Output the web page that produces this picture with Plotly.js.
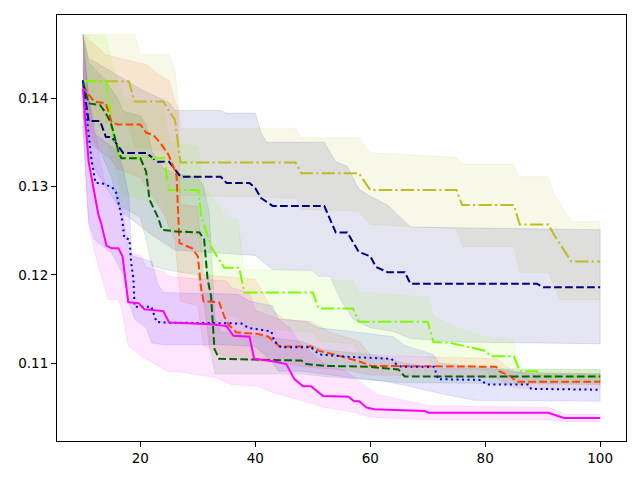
<!DOCTYPE html>
<html>
<head>
<meta charset="utf-8">
<script src="https://cdn.plot.ly/plotly-3.0.1.min.js"></script>
<style>
  html, body { margin: 0; padding: 0; background: #fff; }
  #chart { width: 640px; height: 480px; }
</style>
</head>
<body>
<div id="chart"></div>
<script>
// olive, dash-dot
const olive_x = [10, 18, 19, 24, 25, 26, 27, 47, 48, 58, 60, 75, 76, 85, 86, 91, 92, 95, 100];
const olive_mean = [0.1419, 0.1419, 0.1396, 0.1396, 0.1385, 0.1376, 0.1327, 0.1327, 0.1315, 0.1315, 0.1296, 0.1296, 0.1279, 0.1279, 0.1257, 0.1257, 0.1245, 0.1215, 0.1215];
const olive_up_x = [10, 19, 20, 25, 26, 27, 47, 48, 58, 60, 75, 76, 85, 86, 91, 92, 95, 100];
const olive_up = [0.1472, 0.1472, 0.1449, 0.1449, 0.1434, 0.1366, 0.1366, 0.1355, 0.1355, 0.1338, 0.1333, 0.1325, 0.1325, 0.1311, 0.1311, 0.1291, 0.1260, 0.1260];
const olive_lo_x = [10, 18, 19, 24, 26, 27, 47, 48, 58, 60, 75, 76, 85, 86, 91, 93, 100];
const olive_lo = [0.1375, 0.1370, 0.1345, 0.1340, 0.1320, 0.1290, 0.1287, 0.1274, 0.1272, 0.1257, 0.1252, 0.1232, 0.1232, 0.1203, 0.1203, 0.1172, 0.1172];

// navy, dashed
const navy_x = [10, 11, 13, 14, 15, 17, 21, 23, 25, 27, 34, 35, 39, 40, 41, 43, 52, 54, 56, 58, 60, 61, 63, 66, 67, 89, 90, 100];
const navy_mean = [0.1420, 0.1374, 0.1374, 0.1356, 0.1356, 0.1338, 0.1338, 0.1328, 0.1328, 0.1311, 0.1311, 0.1304, 0.1304, 0.1298, 0.1287, 0.1278, 0.1278, 0.1248, 0.1248, 0.1226, 0.1221, 0.1209, 0.1203, 0.1203, 0.1190, 0.1190, 0.1186, 0.1186];
const navy_up_x = [10, 11, 15, 20, 25, 26, 34, 35, 40, 41, 42, 52, 54, 56, 58, 60, 63, 67, 100];
const navy_up = [0.1472, 0.1445, 0.1430, 0.1410, 0.1395, 0.1386, 0.1386, 0.1383, 0.1383, 0.1361, 0.1350, 0.1350, 0.1328, 0.1323, 0.1297, 0.1289, 0.1279, 0.1254, 0.1251];
const navy_lo_x = [10, 11, 14, 17, 22, 26, 40, 43, 50, 51, 53, 55, 57, 60, 64, 67, 75, 100];
const navy_lo = [0.1385, 0.1330, 0.1300, 0.1270, 0.1245, 0.1228, 0.1222, 0.1206, 0.1205, 0.1198, 0.1198, 0.1170, 0.1150, 0.1140, 0.1136, 0.1128, 0.1124, 0.1122];

// lawngreen, dash-dot
const lg_x = [10, 14, 15, 15.3, 16.5, 24.2, 24.9, 30.1, 30.6, 32.3, 34.6, 37.2, 38.1, 50, 51, 57, 58, 70, 71, 74, 80, 81, 85, 86, 89, 90, 100];
const lg_mean = [0.1419, 0.1419, 0.1373, 0.1355, 0.1333, 0.1332, 0.1296, 0.1296, 0.1266, 0.1232, 0.1208, 0.1208, 0.1180, 0.1180, 0.1162, 0.1162, 0.1147, 0.1147, 0.1124, 0.1123, 0.1114, 0.1108, 0.1108, 0.1091, 0.1091, 0.1085, 0.1085];
const lg_up_x = [10, 14, 15, 16, 17, 24, 25, 30, 31, 33, 35, 37, 38, 50, 51, 57, 58, 70, 71, 75, 80, 85, 86, 100];
const lg_up = [0.1472, 0.1470, 0.1440, 0.1420, 0.1400, 0.1390, 0.1350, 0.1345, 0.1300, 0.1285, 0.1265, 0.1262, 0.1206, 0.1204, 0.1195, 0.1193, 0.1180, 0.1175, 0.1153, 0.1140, 0.1130, 0.1125, 0.1093, 0.1093];
const lg_lo_x = [10, 14, 15, 16, 17, 24, 25, 30, 31, 32, 34, 35, 37, 38, 50, 51, 57, 58, 70, 71, 75, 80, 81, 85, 86, 100];
const lg_lo = [0.1370, 0.1365, 0.1330, 0.1310, 0.1290, 0.1280, 0.1250, 0.1245, 0.1215, 0.1190, 0.1170, 0.1155, 0.1152, 0.1140, 0.1135, 0.1125, 0.1122, 0.1112, 0.1110, 0.1097, 0.1096, 0.1092, 0.1085, 0.1083, 0.1078, 0.1078];

// orangered, dashed
const or_x = [10, 11, 12, 14, 15, 16, 20, 21, 22.3, 23.5, 24.9, 25.7, 26.3, 26.8, 29, 30, 30.6, 31, 33.7, 34.6, 35.3, 36.7, 40.5, 42.3, 43.3, 44.2, 49.7, 51.1, 53.7, 56.7, 58.1, 60.2, 81.9, 82.4, 84.5, 85.4, 100];
const or_mean = [0.1415, 0.1404, 0.1396, 0.1394, 0.1373, 0.1370, 0.1370, 0.1361, 0.1358, 0.1349, 0.1336, 0.1324, 0.1313, 0.1236, 0.1230, 0.1221, 0.1183, 0.1170, 0.1169, 0.1153, 0.1144, 0.1135, 0.1133, 0.1130, 0.1124, 0.1119, 0.1119, 0.1114, 0.1110, 0.1105, 0.1102, 0.1097, 0.1096, 0.1091, 0.1085, 0.1079, 0.1079];
const or_up_x = [10, 14, 19, 21, 23, 25, 26, 26.5, 27, 30, 31, 40, 43, 45, 50, 53, 58, 60, 72, 82, 85, 100];
const or_up = [0.1472, 0.1449, 0.1441, 0.1438, 0.1427, 0.1420, 0.1397, 0.1390, 0.1280, 0.1277, 0.1200, 0.1195, 0.1160, 0.1150, 0.1147, 0.1135, 0.1125, 0.1110, 0.1107, 0.1105, 0.1090, 0.1088];
const or_lo_x = [10, 11, 13, 15, 16, 20, 22, 24, 26, 27, 30, 31, 34, 36, 40, 44, 50, 56, 60, 72, 82, 85, 100];
const or_lo = [0.1380, 0.1360, 0.1340, 0.1330, 0.1320, 0.1310, 0.1290, 0.1270, 0.1240, 0.1170, 0.1165, 0.1120, 0.1110, 0.1105, 0.1103, 0.1100, 0.1095, 0.1092, 0.1087, 0.1085, 0.1083, 0.1072, 0.1071];

// darkgreen, dashed
const dg_x = [10, 11, 13, 13.9, 14.8, 15.3, 16.2, 16.7, 20, 21, 21.6, 23, 23.8, 26.3, 30.3, 31.1, 31.7, 32.3, 32.9, 33.7, 48, 48.9, 52.3, 59.7, 64.9, 66, 100];
const dg_mean = [0.1418, 0.1394, 0.1392, 0.1384, 0.1373, 0.1362, 0.1339, 0.1332, 0.1332, 0.1317, 0.1285, 0.1266, 0.1251, 0.1249, 0.1248, 0.1240, 0.1195, 0.1176, 0.1116, 0.1105, 0.1103, 0.1099, 0.1097, 0.1096, 0.1093, 0.1085, 0.1085];
const dg_up_x = [10, 11, 14, 16, 17, 20, 21, 22, 24, 26, 30, 31, 32, 33, 34, 48, 52, 60, 66, 72, 100];
const dg_up = [0.1472, 0.1440, 0.1420, 0.1400, 0.1385, 0.1380, 0.1370, 0.1340, 0.1320, 0.1315, 0.1310, 0.1300, 0.1270, 0.1150, 0.1135, 0.1125, 0.1115, 0.1110, 0.1100, 0.1094, 0.1093];
const dg_lo_x = [10, 11, 13, 15, 16, 20, 21, 22, 25, 30, 31, 32, 33, 48, 52, 66, 100];
const dg_lo = [0.1380, 0.1350, 0.1340, 0.1310, 0.1280, 0.1265, 0.1240, 0.1210, 0.1205, 0.1200, 0.1175, 0.1120, 0.1088, 0.1088, 0.1085, 0.1078, 0.1076];

// blue, dotted
const bl_x = [10, 11, 11.5, 12.2, 13.2, 15.1, 15.8, 16.3, 16.9, 17.2, 18.1, 18.4, 18.8, 19, 21.9, 22.8, 23.7, 37.6, 38.8, 42.8, 43.3, 44.5, 49.7, 51.1, 56.7, 63.7, 64.5, 65.4, 71.1, 71.8, 79.3, 80.2, 87.5, 88, 100];
const bl_mean = [0.1420, 0.1362, 0.1330, 0.1304, 0.1304, 0.1299, 0.1293, 0.1279, 0.1260, 0.1242, 0.1240, 0.1214, 0.1195, 0.1164, 0.1164, 0.1147, 0.1146, 0.1145, 0.1140, 0.1136, 0.1125, 0.1118, 0.1118, 0.1110, 0.1107, 0.1105, 0.1099, 0.1096, 0.1096, 0.1082, 0.1081, 0.1076, 0.1076, 0.1071, 0.1070];
const bl_up_x = [10, 11, 12, 14, 16, 17, 18, 18.5, 22, 23, 24, 37, 39, 43, 44, 49, 51, 58, 64, 66, 71, 72, 80, 88, 100];
const bl_up = [0.1472, 0.1400, 0.1360, 0.1350, 0.1340, 0.1320, 0.1290, 0.1222, 0.1215, 0.1190, 0.1180, 0.1178, 0.1170, 0.1165, 0.1150, 0.1147, 0.1140, 0.1135, 0.1130, 0.1120, 0.1110, 0.1100, 0.1095, 0.1088, 0.1088];
const bl_lo_x = [10, 11, 12, 13, 15, 17, 18, 19, 21, 22, 24, 34, 40, 43, 44, 48, 55, 62, 66, 72, 78, 100];
const bl_lo = [0.1370, 0.1260, 0.1240, 0.1235, 0.1225, 0.1200, 0.1170, 0.1150, 0.1140, 0.1123, 0.1121, 0.1121, 0.1119, 0.1101, 0.1091, 0.1091, 0.1085, 0.1080, 0.1075, 0.1066, 0.1058, 0.1057];

// magenta, solid
const mg_x = [10, 11, 11.8, 12.7, 13.2, 14.1, 15, 16.2, 16.9, 17.9, 19.7, 20.7, 24, 25, 32.3, 35, 36.2, 39, 39.8, 43.3, 45.4, 46.8, 48.3, 49.7, 51.8, 56.2, 57.2, 58.1, 59.3, 60.7, 69.4, 70.1, 91, 92.3, 93.7, 100];
const mg_mean = [0.1411, 0.1328, 0.1300, 0.1268, 0.1258, 0.1233, 0.1230, 0.1230, 0.1221, 0.1169, 0.1168, 0.1161, 0.1159, 0.1146, 0.1144, 0.1142, 0.1131, 0.1130, 0.1105, 0.1102, 0.1099, 0.1082, 0.1074, 0.1074, 0.1063, 0.1062, 0.1057, 0.1057, 0.1050, 0.1048, 0.1046, 0.1044, 0.1044, 0.1041, 0.1038, 0.1038];
const mg_up_x = [10, 11, 12, 13, 14, 16, 17, 18, 20, 21, 24, 25, 32, 35, 36, 39, 40, 44, 46, 48, 52, 56, 58, 61, 70, 91, 94, 100];
const mg_up = [0.1472, 0.1400, 0.1370, 0.1330, 0.1300, 0.1280, 0.1270, 0.1225, 0.1222, 0.1209, 0.1204, 0.1198, 0.1195, 0.1193, 0.1185, 0.1180, 0.1160, 0.1150, 0.1140, 0.1120, 0.1100, 0.1090, 0.1080, 0.1065, 0.1052, 0.1050, 0.1042, 0.1042];
const mg_lo_x = [10, 11, 12.3, 14.4, 16.2, 16.7, 17.9, 20.2, 24.9, 27, 33, 35.8, 40.5, 43, 48, 52, 57, 60, 70, 91, 94, 100];
const mg_lo = [0.1370, 0.1255, 0.1220, 0.1172, 0.1172, 0.1164, 0.1120, 0.1108, 0.1090, 0.1090, 0.1084, 0.1076, 0.1074, 0.1067, 0.1058, 0.1050, 0.1045, 0.1039, 0.1036, 0.1036, 0.1034, 0.1034];

const x_ticks = [20, 40, 60, 80, 100];
const y_ticks = [0.11, 0.12, 0.13, 0.14];

// matplotlib-like dash patterns at linewidth 1.5
const DASHED = "7.7px,3.3px";
const DASHDOT = "13.3px,3.3px,2.1px,3.3px";
const DOTTED = "2.1px,3.4px";

const series = [
    { x: olive_x, y: olive_mean, ux: olive_up_x, uy: olive_up, lx: olive_lo_x, ly: olive_lo, rgb: [188, 189, 34], dash: DASHDOT },
    { x: navy_x, y: navy_mean, ux: navy_up_x, uy: navy_up, lx: navy_lo_x, ly: navy_lo, rgb: [0, 0, 128], dash: DASHED },
    { x: lg_x, y: lg_mean, ux: lg_up_x, uy: lg_up, lx: lg_lo_x, ly: lg_lo, rgb: [124, 252, 0], dash: DASHDOT },
    { x: or_x, y: or_mean, ux: or_up_x, uy: or_up, lx: or_lo_x, ly: or_lo, rgb: [255, 69, 0], dash: DASHED },
    { x: dg_x, y: dg_mean, ux: dg_up_x, uy: dg_up, lx: dg_lo_x, ly: dg_lo, rgb: [0, 100, 0], dash: DASHED },
    { x: bl_x, y: bl_mean, ux: bl_up_x, uy: bl_up, lx: bl_lo_x, ly: bl_lo, rgb: [0, 0, 255], dash: DOTTED },
    { x: mg_x, y: mg_mean, ux: mg_up_x, uy: mg_up, lx: mg_lo_x, ly: mg_lo, rgb: [255, 0, 255], dash: "solid" }
];

function rgba(rgb, a) { return `rgba(${rgb[0]},${rgb[1]},${rgb[2]},${a})`; }

function band_trace(s) {
    // upper edge left to right, then lower edge back
    return {
        x: s.ux.concat(s.lx.slice().reverse()),
        y: s.uy.concat(s.ly.slice().reverse()),
        type: "scatter",
        mode: "lines",
        fill: "toself",
        fillcolor: rgba(s.rgb, 0.1),
        line: { color: rgba(s.rgb, 0.1), width: 1 },
        hoverinfo: "skip",
        showlegend: false
    };
}

function mean_trace(s) {
    return {
        x: s.x,
        y: s.y,
        type: "scatter",
        mode: "lines",
        line: { color: rgba(s.rgb, 1), width: 2, dash: s.dash },
        showlegend: false
    };
}

const traces = [];
for (const s of series) traces.push(band_trace(s));
for (const s of series) traces.push(mean_trace(s));

const tick_font = { family: "DejaVu Sans, sans-serif", size: 13.5, color: "#000" };
const axis_common = {
    showgrid: false, zeroline: false,
    showline: true, mirror: true, linecolor: "#000", linewidth: 1,
    ticks: "outside", ticklen: 5, tickwidth: 1, tickcolor: "#000",
    tickfont: tick_font
};

const layout = {
    width: 640, height: 480,
    margin: { l: 57, r: 14, t: 15, b: 39, pad: 0 },
    paper_bgcolor: "#fff", plot_bgcolor: "#fff",
    xaxis: Object.assign({}, axis_common, {
        range: [5.5, 104.5], tickvals: x_ticks, ticktext: x_ticks.map(String)
    }),
    yaxis: Object.assign({}, axis_common, {
        range: [0.1012, 0.1494], tickvals: y_ticks, ticktext: y_ticks.map(v => v.toFixed(2))
    })
};

Plotly.newPlot("chart", traces, layout, { displayModeBar: false, staticPlot: true });
</script>
</body>
</html>
